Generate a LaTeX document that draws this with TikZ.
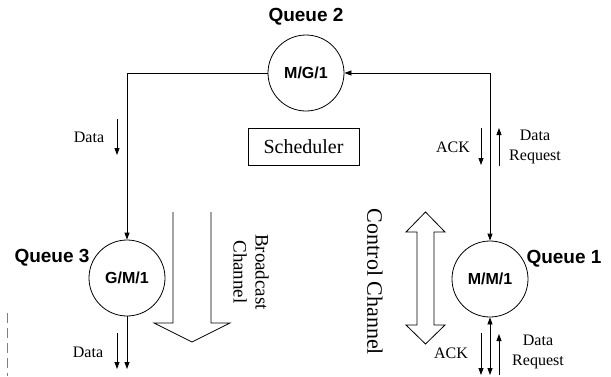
\documentclass[tikz,border=0pt]{standalone}
\usepackage{fontspec}
\setmainfont{Liberation Serif}
\setsansfont{Liberation Sans}
\usetikzlibrary{arrows.meta}
\begin{document}
\begin{tikzpicture}[x=1pt,y=-1pt,
  queue/.style={circle, draw, line width=0.8pt, minimum size=76pt, inner sep=0pt, font=\sffamily\bfseries\fontsize{16}{18}\selectfont},
  qlabel/.style={font=\sffamily\bfseries\fontsize{19}{22}\selectfont, inner sep=0pt},
  lbl/.style={font=\fontsize{16}{20}\selectfont, inner sep=0pt, align=center},
  link/.style={line width=0.8pt},
  tip/.style={-{Triangle[length=7pt,width=5pt]}},
  twotip/.style={{Triangle[length=7pt,width=5pt]}-{Triangle[length=7pt,width=5pt]}},
  hollow/.style={draw, line width=0.8pt, fill=white, line join=miter}]
\useasboundingbox (0,0) rectangle (611,376);

% queues
\node[queue] (q2) at (306,73) {M/G/1};
\node[queue] (q3) at (127,278) {G/M/1};
\node[queue] (q1) at (490,279) {M/M/1};
\node[qlabel] (q2l) at (306,17) {Queue 2};
\node[qlabel] (q3l) at (52,258) {Queue 3};
\node[qlabel] (q1l) at (564,259) {Queue 1};

% scheduler
\node[draw, link, minimum width=111pt, minimum height=37pt, inner sep=0pt, font=\fontsize{20}{24}\selectfont] (sch) at (303.5,146.5) {Scheduler};

% main connectors
\coordinate (tl) at (127,73);
\coordinate (tr) at (490,73);
\draw[link, tip] (q2.west) -- (tl) -- (q3.north);
\draw[link, twotip] (q2.east) -- (tr) -- (q1.north);
\coordinate (b3) at (127,369);
\draw[link, tip] (q3.south) -- (b3);
\coordinate (b1) at (490,375);
\draw[link, twotip] (q1.south) -- (b1);

% small arrows top
\coordinate (d1s) at (117,119); \coordinate (d1e) at (117,155);
\draw[link, tip] (d1s) -- (d1e);
\coordinate (a1s) at (481,128); \coordinate (a1e) at (481,165);
\draw[link, tip] (a1s) -- (a1e);
\coordinate (r1s) at (499,166); \coordinate (r1e) at (499,128);
\draw[link, tip] (r1s) -- (r1e);
\node[lbl] (dt1) at (89,137) {Data};
\node[lbl] (ack1) at (453,147) {ACK};
\node[lbl] (dr1) at (535,147) {Data\\Request};

% small arrows bottom
\coordinate (d2s) at (117,333); \coordinate (d2e) at (117,369);
\draw[link, tip] (d2s) -- (d2e);
\coordinate (a2s) at (481,333); \coordinate (a2e) at (481,375);
\draw[link, tip] (a2s) -- (a2e);
\coordinate (r2s) at (499,375); \coordinate (r2e) at (499,334);
\draw[link, tip] (r2s) -- (r2e);
\node[lbl] (dt2) at (88,352) {Data};
\node[lbl] (ack2) at (451,353) {ACK};
\node[lbl] (dr2) at (538,352) {Data\\Request};

% broadcast channel (hollow arrow, open top)
\draw[hollow] (173,212) -- (173,323) -- (154,323) -- (192,342) -- (230,323) -- (211,323) -- (211,212);
\node[rotate=-90, font=\fontsize{19}{22}\selectfont, align=center, inner sep=0pt] (bc) at (251,272) {Broadcast\\Channel};

% control channel (hollow double arrow)
\draw[hollow] (425.5,212) -- (445,232) -- (434,232) -- (434,325) -- (445,325) -- (425.5,344) -- (406,325) -- (417,325) -- (417,232) -- (406,232) -- cycle;
\node[rotate=-90, font=\fontsize{22}{26}\selectfont, inner sep=0pt] (cc) at (375,282) {Control Channel};

% dashed margin line
\draw[gray, line width=1pt, dash pattern=on 10pt off 5pt] (7,313) -- (7,376);
\end{tikzpicture}
\end{document}
